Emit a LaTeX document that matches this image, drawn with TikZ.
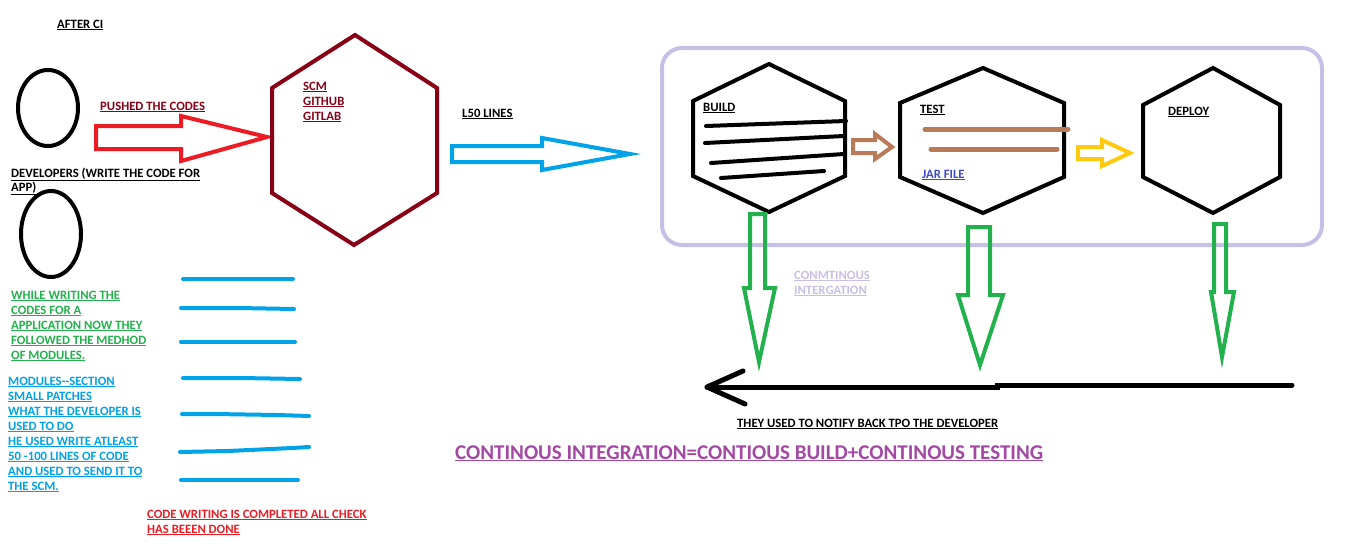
\documentclass[tikz,border=0pt]{standalone}
\usepackage{fontspec}
\setmainfont{Carlito}
\definecolor{pdred}{HTML}{880015}
\definecolor{pred}{HTML}{ED1C24}
\definecolor{pgreen}{HTML}{22B14C}
\definecolor{pblue}{HTML}{00A2E8}
\definecolor{pbrown}{HTML}{B97A57}
\definecolor{pyellow}{HTML}{FFC90E}
\definecolor{plav}{HTML}{C8BFE7}
\definecolor{ppurple}{HTML}{A349A4}
\definecolor{pindigo}{HTML}{3F48CC}
\newcommand{\ulx}[1]{\underline{#1}}
\tikzset{
  txt/.style={anchor=base west, inner sep=0pt, font=\fontsize{12.7}{15}\selectfont\bfseries},
  bigtxt/.style={anchor=base west, inner sep=0pt, font=\fontsize{21}{24}\selectfont\bfseries, text=ppurple},
  thick4/.style={line width=4pt, line join=miter},
  stroke/.style={line width=4pt, line cap=round},
}
\begin{document}
\begin{tikzpicture}[x=1pt,y=-1pt]
\useasboundingbox[fill=white] (0,0) rectangle (1360,546);

% ---- left: developers
\node[txt] (afterci) at (57,28) {\ulx{AFTER CI}};
\draw[thick4] (48,108) ellipse [x radius=30, y radius=38];
\node[txt, text=pdred] (pushed) at (100,110) {\ulx{PUSHED THE CODES}};
\draw[thick4, pred] (96,126) -- (181,126) -- (181,116) -- (267,137) -- (181,161) -- (181,149) -- (96,149) -- cycle;
\node[txt] (dev1) at (11,177) {\ulx{DEVELOPERS (WRITE THE CODE FOR}};
\node[txt] (dev2) at (11,191) {\ulx{APP)}};
\draw[thick4] (51,234) ellipse [x radius=30, y radius=43];

\foreach \t [count=\i] in {WHILE WRITING THE, CODES FOR A, APPLICATION NOW THEY, FOLLOWED THE MEDHOD, OF MODULES.}
  \node[txt, text=pgreen] (green\i) at (11,{299+15*(\i-1)}) {\ulx{\t}};
\foreach \t [count=\i] in {MODULES-{}-SECTION, SMALL PATCHES, WHAT THE DEVELOPER IS, USED TO DO, HE USED WRITE ATLEAST, 50 -100 LINES OF CODE, AND USED TO SEND IT TO, THE SCM.}
  \node[txt, text=pblue] (blue\i) at (8,{385+15*(\i-1)}) {\ulx{\t}};

% blue code lines
\draw[stroke, pblue] (183,279) -- (293,279);
\draw[stroke, pblue] (181,308) -- (238,308) -- (294,309);
\draw[stroke, pblue] (181,342) -- (295,342);
\draw[stroke, pblue] (183,378) -- (241,378) -- (300,379);
\draw[stroke, pblue] (182,414) -- (215,414) -- (277,415) -- (309,416);
\draw[stroke, pblue] (180,452) -- (228,451) -- (292,448) -- (309,447);
\draw[stroke, pblue] (181,480) -- (298,480);

\node[txt, text=pred] (done1) at (147,518) {\ulx{CODE WRITING IS COMPLETED ALL CHECK}};
\node[txt, text=pred] (done2) at (147,533) {\ulx{HAS BEEEN DONE}};

% ---- SCM
\draw[thick4, pdred] (355,35) -- (437,88) -- (437,193) -- (354,245) -- (272,193) -- (272,88) -- cycle;
\node[txt, text=pdred] (scm1) at (303,90) {\ulx{SCM}};
\node[txt, text=pdred] (scm2) at (303,105) {\ulx{GITHUB}};
\node[txt, text=pdred] (scm3) at (303,120) {\ulx{GITLAB}};
\node[txt] (l50) at (462,117) {\ulx{L50 LINES}};
\draw[thick4, pblue] (452,146) -- (542,146) -- (542,138) -- (630,154) -- (542,170) -- (542,162) -- (452,162) -- cycle;

% ---- CI box
\draw[line width=4pt, plav, rounded corners=20pt] (662,48) rectangle (1322,245);

% build
\draw[thick4] (769,64) -- (845,101) -- (845,176) -- (769,212) -- (693,176) -- (693,101) -- cycle;
\node[txt] (build) at (703,111) {\ulx{BUILD}};
\draw[stroke] (706,126) -- (846,121);
\draw[stroke] (705,143) -- (844,136);
\draw[stroke] (711,163) -- (844,154);
\draw[stroke] (721,178) -- (824,171);

% brown arrow
\draw[thick4, pbrown] (853,140) -- (875,140) -- (875,134) -- (892,147) -- (875,159) -- (875,153) -- (853,153) -- cycle;

% test
\draw[thick4] (983,68) -- (1064,103) -- (1064,177) -- (983,213) -- (900,177) -- (900,103) -- cycle;
\node[txt] (test) at (920,113) {\ulx{TEST}};
\draw[line width=5pt, line cap=round, pbrown] (925,129) -- (1068,129);
\draw[line width=5pt, line cap=round, pbrown] (931,149) -- (1057,149);
\node[txt, text=pindigo] (jar) at (922,178) {\ulx{JAR FILE}};

% yellow arrow
\draw[thick4, pyellow] (1078,147) -- (1102,147) -- (1102,140) -- (1130,153) -- (1102,166) -- (1102,159) -- (1078,159) -- cycle;

% deploy
\draw[thick4] (1213,68) -- (1280,105) -- (1280,177) -- (1213,213) -- (1143,177) -- (1143,105) -- cycle;
\node[txt] (deploy) at (1168,115) {\ulx{DEPLOY}};

% green arrows
\draw[thick4, pgreen] (750,214) -- (765,214) -- (765,288) -- (775,288) -- (759,362) -- (744,288) -- (750,288) -- cycle;
\draw[thick4, pgreen] (968,227) -- (990,227) -- (990,295) -- (1003,295) -- (980,365) -- (958,295) -- (968,295) -- cycle;
\draw[thick4, pgreen] (1214,224) -- (1226,224) -- (1226,292) -- (1234,292) -- (1222,357) -- (1211,292) -- (1214,292) -- cycle;

\node[txt, text=plav] (ci1) at (794,279) {\ulx{CONMTINOUS}};
\node[txt, text=plav] (ci2) at (794,294) {\ulx{INTERGATION}};

% feedback arrow
\coordinate (fbR) at (1292,385);
\coordinate (fbL) at (707,387);
\draw[line width=5pt, line cap=round] (fbR) -- (997,385) -- (997,387) -- (fbL);
\draw[line width=5pt, line cap=round, line join=round] (743,371) -- (fbL) -- (745,404);
\node[txt] (notify) at (737,427) {\ulx{THEY USED TO NOTIFY BACK TPO THE DEVELOPER}};

\node[bigtxt] (formula) at (455,459) {\ulx{CONTINOUS INTEGRATION=CONTIOUS BUILD+CONTINOUS TESTING}};
\end{tikzpicture}
\end{document}
